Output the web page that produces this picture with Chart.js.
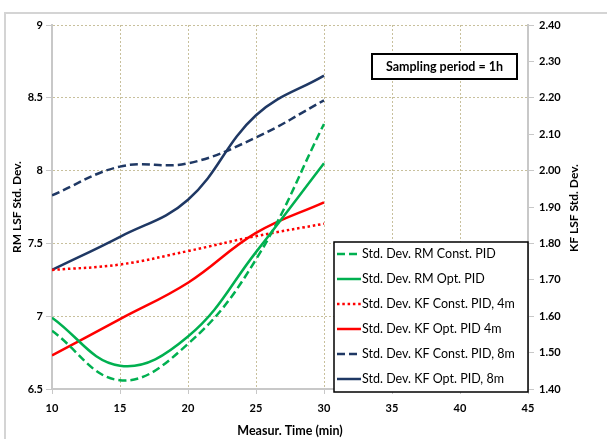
<!DOCTYPE html>
<html>
<head>
<meta charset="utf-8">
<script src="https://cdn.jsdelivr.net/npm/chart.js@4.4.1/dist/chart.umd.min.js"></script>
<style>
  html, body { margin: 0; padding: 0; background: #fff; }
</style>
</head>
<body>
<canvas id="c" width="607" height="439"></canvas>
<script>
// measurement time (min)
const times = [10, 15, 20, 25, 30];
// RM series -> left axis, KF series -> right axis
const rmConstPid = [6.90, 6.56, 6.81, 7.39, 8.32];
const rmOptPid = [6.99, 6.66, 6.86, 7.44, 8.05];
const kfConstPid4m = [1.727, 1.742, 1.779, 1.820, 1.854];
const kfOptPid4m = [1.492, 1.592, 1.692, 1.829, 1.913];
const kfConstPid8m = [1.932, 2.011, 2.020, 2.091, 2.193];
const kfOptPid8m = [1.727, 1.818, 1.920, 2.152, 2.261];

const seriesNames = [
  'Std. Dev. RM Const. PID',
  'Std. Dev. RM Opt. PID',
  'Std. Dev. KF Const. PID, 4m',
  'Std. Dev. KF Opt. PID 4m',
  'Std. Dev. KF Const. PID, 8m',
  'Std. Dev. KF Opt. PID, 8m'
];

const GREEN = '#00b050', RED = '#ff0000', NAVY = '#1f3864';
const GRID = '#c8c09c', AXIS = '#c8c8c8';
const FONT = 'Lato';

function pts(vals) {
  return vals.map((v, i) => ({ x: times[i], y: v }));
}

function line(label, vals, color, dash, axis) {
  return {
    label: label,
    data: pts(vals),
    borderColor: color,
    backgroundColor: color,
    borderWidth: 2.5,
    borderDash: dash,
    pointRadius: 0,
    tension: 0.4,
    fill: false,
    yAxisID: axis
  };
}

const framePlugin = {
  id: 'frame',
  beforeDraw(chart) {
    const ctx = chart.ctx;
    ctx.save();
    ctx.strokeStyle = '#d4d4d4';
    ctx.lineWidth = 2;
    ctx.strokeRect(5, 13, 640, 460);
    ctx.restore();
  }
};

const overlayPlugin = {
  id: 'overlay',
  afterDraw(chart) {
    const ctx = chart.ctx;
    ctx.save();

    // text box
    ctx.fillStyle = '#fff';
    ctx.fillRect(372, 54, 145, 25);
    ctx.strokeStyle = '#000';
    ctx.lineWidth = 2;
    ctx.strokeRect(372, 54, 145, 25);
    ctx.fillStyle = '#000';
    ctx.font = 'bold 12.5px ' + FONT;
    ctx.textAlign = 'center';
    ctx.textBaseline = 'middle';
    ctx.fillText('Sampling period = 1h', 444.5, 67);

    // legend
    ctx.fillStyle = '#fff';
    ctx.fillRect(334, 242, 194, 150);
    ctx.lineWidth = 1.5;
    ctx.strokeStyle = '#000';
    ctx.strokeRect(334, 242, 194, 150);
    ctx.font = '12.5px ' + FONT;
    ctx.textAlign = 'left';
    chart.data.datasets.forEach((ds, i) => {
      const y = 254 + i * 25;
      ctx.strokeStyle = ds.borderColor;
      ctx.lineWidth = 2.5;
      ctx.setLineDash(ds.borderDash || []);
      ctx.beginPath();
      ctx.moveTo(337, y);
      ctx.lineTo(361, y);
      ctx.stroke();
      ctx.setLineDash([]);
      ctx.fillStyle = '#000';
      ctx.fillText(ds.label, 362, y);
    });

    // right axis title, reading bottom to top
    ctx.translate(574, 208);
    ctx.rotate(-Math.PI / 2);
    ctx.font = 'bold 12px ' + FONT;
    ctx.textAlign = 'center';
    ctx.fillStyle = '#000';
    ctx.fillText('KF LSF Std. Dev.', 0, 0);
    ctx.restore();
  }
};

const tickFont = { family: FONT, size: 11, weight: 'bold' };

new Chart(document.getElementById('c').getContext('2d'), {
  type: 'line',
  data: {
    datasets: [
      line(seriesNames[0], rmConstPid, GREEN, [8, 4], 'y'),
      line(seriesNames[1], rmOptPid, GREEN, [], 'y'),
      line(seriesNames[2], kfConstPid4m, RED, [2.5, 2.8], 'y1'),
      line(seriesNames[3], kfOptPid4m, RED, [], 'y1'),
      line(seriesNames[4], kfConstPid8m, NAVY, [8, 4], 'y1'),
      line(seriesNames[5], kfOptPid8m, NAVY, [], 'y1')
    ]
  },
  options: {
    responsive: false,
    animation: false,
    devicePixelRatio: 1,
    layout: { padding: { top: 25, left: 0, right: 0, bottom: 0 } },
    plugins: {
      legend: { display: false },
      tooltip: { enabled: false }
    },
    scales: {
      x: {
        type: 'linear',
        min: 10,
        max: 45,
        ticks: { stepSize: 5, color: '#000', font: tickFont, padding: 8 },
        grid: { color: GRID, lineWidth: 1, tickLength: 5, tickColor: AXIS },
        border: { display: true, color: AXIS, width: 2, dash: [2, 2] },
        title: {
          display: true,
          text: 'Measur. Time (min)',
          color: '#000',
          font: { family: FONT, size: 12.5, weight: 'bold' },
          padding: { top: 0, bottom: 1 }
        },
        afterFit(s) { s.height = 50; }
      },
      y: {
        position: 'left',
        min: 6.5,
        max: 9,
        ticks: {
          stepSize: 0.5,
          color: '#000',
          font: tickFont,
          padding: 3,
          callback: v => String(Number(v.toFixed(1)))
        },
        grid: { color: GRID, lineWidth: 1, tickLength: 6, tickColor: AXIS },
        border: { display: true, color: AXIS, width: 2, dash: [2, 2] },
        title: {
          display: true,
          text: 'RM LSF Std. Dev.',
          color: '#000',
          font: { family: FONT, size: 12, weight: 'bold' },
          padding: { top: 10, bottom: 0 }
        },
        afterFit(s) { s.width = 52; }
      },
      y1: {
        position: 'right',
        min: 1.4,
        max: 2.4,
        ticks: {
          stepSize: 0.1,
          color: '#000',
          font: tickFont,
          padding: 5,
          callback: v => v.toFixed(2)
        },
        grid: { drawOnChartArea: false, tickLength: 6, tickColor: AXIS },
        border: { display: true, color: AXIS, width: 2 },
        afterFit(s) { s.width = 79; }
      }
    }
  },
  plugins: [framePlugin, overlayPlugin]
});
</script>
</body>
</html>
